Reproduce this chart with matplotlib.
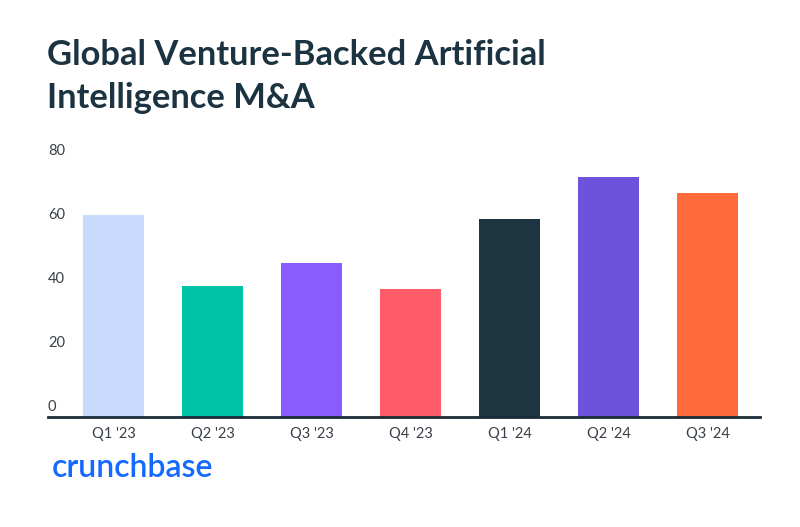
import matplotlib
matplotlib.use("Agg")
import matplotlib.pyplot as plt
import matplotlib.transforms as mtransforms

quarters = ["Q1 '23", "Q2 '23", "Q3 '23", "Q4 '23", "Q1 '24", "Q2 '24", "Q3 '24"]
deals = [63, 41, 48, 40, 62, 75, 70]
bar_colors = ["#c9dbfc", "#00c4a5", "#8a5cff", "#ff5c6a", "#1c3541", "#6d53db", "#ff6a3a"]
y_ticks = [0, 20, 40, 60, 80]

title_color = "#1c3341"
text_color = "#3a4048"

plt.rcParams["font.family"] = ["Lato", "DejaVu Sans"]

fig = plt.figure(figsize=(8, 5.27), dpi=100)
fig.patch.set_facecolor("white")

# axes box in pixel terms: x 48..760, y-value 0 at 417px, 80 at 161px
ax = fig.add_axes([48 / 800, 1 - 417 / 527, 712 / 800, 256 / 527])

x = range(len(quarters))
ax.bar(x, deals, width=0.615, color=bar_colors, zorder=2)

ax.set_xlim(-0.665, 6.53)
ax.set_ylim(0, 80)

for side in ["top", "right", "left"]:
    ax.spines[side].set_visible(False)
ax.spines["bottom"].set_color("#1c2b36")
ax.spines["bottom"].set_linewidth(2)

ax.set_xticks(list(x))
ax.set_xticklabels(quarters, fontsize=10.5, color=text_color)
ax.tick_params(axis="x", length=0, pad=7)
ax.set_yticks([])

# y labels sit just above their value, left aligned
trans = mtransforms.offset_copy(
    ax.get_yaxis_transform(), fig=fig, x=0, y=3, units="dots"
)
for v in y_ticks:
    ax.text(0, v, str(v), transform=trans, ha="left", va="bottom",
            fontsize=10.5, color=text_color)

# title: baseline of second line at ~108px
fig.text(47 / 800, 1 - 108 / 527,
         "Global Venture-Backed Artificial\nIntelligence M&A",
         fontsize=24.8, fontweight="bold", color=title_color,
         ha="left", va="baseline", linespacing=1.42)

fig.text(52 / 800, 1 - 477 / 527, "crunchbase", fontsize=23,
         fontweight="semibold", color="#146aff", ha="left", va="baseline")

fig.savefig("out.png", dpi=100)
